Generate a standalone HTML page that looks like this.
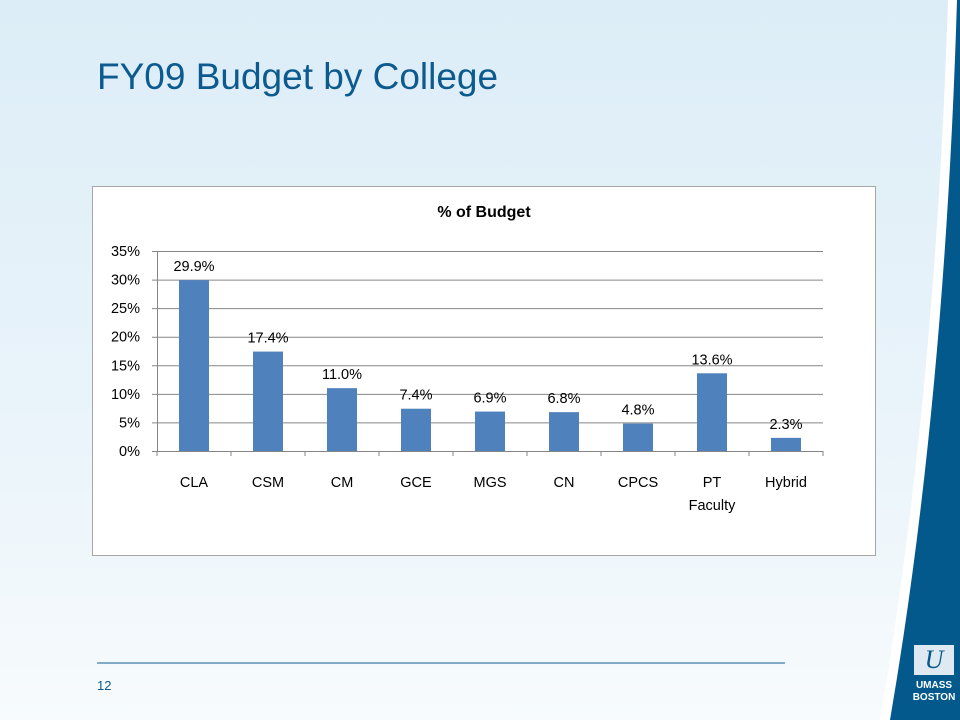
<!DOCTYPE html>
<html><head><meta charset="utf-8"><style>
body{margin:0;width:960px;height:720px;overflow:hidden;font-family:"Liberation Sans",sans-serif}
</style></head><body>
<svg width="960" height="720" xmlns="http://www.w3.org/2000/svg">
<defs><linearGradient id="bg" x1="0" y1="0" x2="0" y2="1"><stop offset="0" stop-color="#dcedf7"/><stop offset="0.6" stop-color="#eaf4fa"/><stop offset="1" stop-color="#f7fbfd"/></linearGradient></defs>
<rect width="960" height="720" fill="url(#bg)"/>
<path d="M948,0 Q935,400 880,720 L960,720 L960,0 Z" fill="#ffffff"/>
<path d="M957,0 Q945,400 890,720 L960,720 L960,0 Z" fill="#04598c"/>
<g>
<rect x="914" y="645" width="40" height="30" fill="#dfe9f1"/>
<text x="934" y="668" font-family="Liberation Serif" font-style="italic" font-size="26" fill="#04598c" text-anchor="middle">U</text>
<text x="934" y="688" font-size="10" font-weight="bold" fill="#fff" text-anchor="middle">UMASS</text>
<text x="934" y="700" font-size="10" font-weight="bold" fill="#fff" text-anchor="middle">BOSTON</text>
</g>
<text x="97" y="89" font-size="37" fill="#0c5a8e">FY09 Budget by College</text>
<line x1="97" y1="663" x2="785" y2="663" stroke="#0c5a8e" stroke-width="1"/>
<text x="97" y="690" font-size="13" fill="#0c5a8e">12</text>
<rect x="92.5" y="186.5" width="783" height="369" fill="#fff" stroke="#a6a6a6"/>
<text x="484" y="217" font-size="16" font-weight="bold" text-anchor="middle">% of Budget</text>
<g id="plot" font-size="14.5" fill="#000"></g>
</svg>
<script>
const categories=["CLA","CSM","CM","GCE","MGS","CN","CPCS","PT|Faculty","Hybrid"];
const values=[29.9,17.4,11.0,7.4,6.9,6.8,4.8,13.6,2.3];
const yTicks=[0,5,10,15,20,25,30,35];
const NS="http://www.w3.org/2000/svg";
const g=document.getElementById('plot');
const x0=157,x1=823,yb=451,yt=251,ymax=35;
const bw=(x1-x0)/categories.length;
const y=v=>yb-(v/ymax)*(yb-yt);
const xc=i=>x0+bw*(i+0.5);
function mk(t,a){const e=document.createElementNS(NS,t);for(const k in a)e.setAttribute(k,a[k]);g.appendChild(e);return e;}
yTicks.forEach(t=>{
 const l=mk('line',{x1:x0-5,x2:x1,y1:y(t)+.5,y2:y(t)+.5,stroke:'#868686','stroke-width':1});
 
 
 const tx=mk('text',{x:x0-17,y:y(t)+5,'text-anchor':'end'});tx.textContent=t+'%';
 
 
});
mk('line',{x1:x0+.5,x2:x0+.5,y1:yt,y2:yb,stroke:'#868686'});
for(let i=0;i<=categories.length;i++){mk('line',{x1:x0+bw*i,x2:x0+bw*i,y1:yb,y2:yb+5,stroke:'#868686'});}
categories.forEach((c,i)=>{
 const v=values[i];
 const r=mk('rect',{x:xc(i)-15,y:y(v),width:30,height:yb-y(v),fill:'#4f81bd'});
 
 
 const lb=mk('text',{x:xc(i),y:y(v)-9,'text-anchor':'middle'});lb.textContent=v.toFixed(1)+'%';
 
 
 c.split('|').forEach((p,j)=>{
  const t=mk('text',{x:xc(i),y:487+j*23,'text-anchor':'middle'});t.textContent=p;
  
  
 });
});
</script>
</body></html>
